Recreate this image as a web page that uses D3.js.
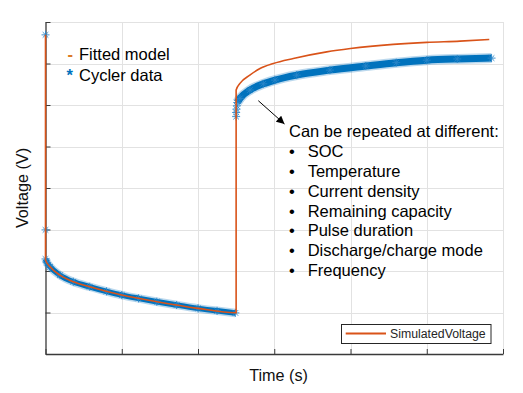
<!DOCTYPE html>
<html>
<head>
<meta charset="utf-8">
<script src="https://cdn.jsdelivr.net/npm/d3@7"></script>
<style>
  html, body { margin: 0; padding: 0; background: #fff; }
  svg { display: block; }
  text { font-family: "Liberation Sans", Arial, sans-serif; }
</style>
</head>
<body>
<svg id="chart" width="523" height="393"></svg>
<script>
// ---------- data (grid units: time 0..6, voltage 0..8) ----------
const xTicks = [0, 1, 2, 3, 4, 5, 6];
const yTicks = [0, 1, 2, 3, 4, 5, 6, 7, 8];

// Fitted model (orange line)
const fitTime = [0, 0, 0.06, 0.19, 0.365, 0.58, 1.0, 1.46, 2.0, 2.49, 2.5, 2.5, 2.55, 2.68, 2.813, 2.988, 3.25, 3.688, 4.0, 4.56, 5.0, 5.436, 5.82];
const fitVolt = [7.69, 2.265, 2.10, 1.90, 1.74, 1.62, 1.42, 1.26, 1.10, 0.995, 0.995, 6.36, 6.52, 6.72, 6.88, 7.00, 7.12, 7.28, 7.36, 7.46, 7.51, 7.54, 7.58];

// Cycler data (blue stars): dense pulse segment
const pulseTime = [0, 0.02, 0.06, 0.19, 0.365, 0.58, 0.8, 1.0, 1.22, 1.46, 1.72, 2.0, 2.25, 2.49];
const pulseVolt = [2.29, 2.2, 2.10, 1.90, 1.74, 1.62, 1.51, 1.42, 1.34, 1.26, 1.18, 1.10, 1.04, 0.99];
// dense relaxation segment
const relaxTime = [2.515, 2.55, 2.68, 2.856, 3.01, 3.294, 3.73, 4.2, 4.6, 5.0, 5.4, 5.85];
const relaxVolt = [6.06, 6.16, 6.36, 6.51, 6.60, 6.72, 6.84, 6.94, 7.02, 7.08, 7.11, 7.13];
// isolated samples
const sparseTime = [0, 0, 2.5, 2.5, 2.505, 2.51];
const sparseVolt = [7.69, 2.99, 5.72, 5.82, 5.9, 5.98];

// texts
const legendLabels = ["Fitted model", "Cycler data"];
const noteTitle = "Can be repeated at different:";
const noteItems = ["SOC", "Temperature", "Current density", "Remaining capacity", "Pulse duration", "Discharge/charge mode", "Frequency"];
const seriesName = "SimulatedVoltage";
const xLabel = "Time (s)";
const yLabel = "Voltage (V)";

// ---------- drawing ----------
const BLUE = "#0072BD", ORANGE = "#D95319";
const svg = d3.select("#chart");
const x = d3.scaleLinear().domain([0, 6]).range([45.5, 503]);
const y = d3.scaleLinear().domain([0, 8]).range([354, 22]);

// grid
const grid = svg.append("g").attr("stroke", "#e2e2e2").attr("stroke-width", 1);
grid.selectAll("line.v").data(xTicks.filter(d => d > 0)).join("line")
  .attr("x1", d => Math.round(x(d)) + 0.5).attr("x2", d => Math.round(x(d)) + 0.5)
  .attr("y1", y(0)).attr("y2", y(8));
grid.selectAll("line.h").data(yTicks.filter(d => d > 0)).join("line")
  .attr("y1", d => Math.round(y(d)) + 0.5).attr("y2", d => Math.round(y(d)) + 0.5)
  .attr("x1", x(0)).attr("x2", x(6));

// axes (no tick labels, inward ticks)
const axL = svg.append("g").attr("transform", `translate(${x(0)},0)`)
  .call(d3.axisLeft(y).tickValues(yTicks).tickSize(-5).tickSizeOuter(0).tickFormat(""));
const axB = svg.append("g").attr("transform", `translate(0,${y(0)})`)
  .call(d3.axisBottom(x).tickValues(xTicks).tickSize(-5).tickSizeOuter(0).tickFormat(""));
[axL, axB].forEach(a => {
  a.select(".domain").attr("stroke", "#3a3a3a").attr("stroke-width", 1.3);
  a.selectAll(".tick line").attr("stroke", "#3a3a3a").attr("stroke-width", 1);
});

// blue cycler data
const blue = svg.append("g");
const lineLin = d3.line().x(d => x(d[0])).y(d => y(d[1])).curve(d3.curveMonotoneX);
const pulse = pulseTime.map((t, i) => [t, pulseVolt[i]]);
const relax = relaxTime.map((t, i) => [t, relaxVolt[i]]);
[[pulse, 5.5], [relax, 7]].forEach(([seg, w]) => {
  blue.append("path").attr("d", lineLin(seg)).attr("fill", "none")
    .attr("stroke", "#3d8fcc").attr("stroke-width", w + 3).attr("stroke-opacity", 0.35);
  blue.append("path").attr("d", lineLin(seg)).attr("fill", "none")
    .attr("stroke", BLUE).attr("stroke-width", w);
});
const starPts = pulse.concat(relax).concat(sparseTime.map((t, i) => [t, sparseVolt[i]]));
const star = (r) => `M${-r},0L${r},0M0,${-r}L0,${r}M${-r*0.7},${-r*0.7}L${r*0.7},${r*0.7}M${-r*0.7},${r*0.7}L${r*0.7},${-r*0.7}`;
blue.selectAll("path.star").data(starPts).join("path")
  .attr("class", "star")
  .attr("transform", d => `translate(${x(d[0])},${y(d[1])})`)
  .attr("d", star(4)).attr("fill", "none").attr("stroke", "#2a86c8").attr("stroke-width", 0.9);

// orange fitted model
const fit = fitTime.map((t, i) => [t, fitVolt[i]]);
svg.append("path").attr("d", d3.line().x(d => x(d[0])).y(d => y(d[1])).curve(d3.curveMonotoneX)(fit))
  .attr("fill", "none").attr("stroke", ORANGE).attr("stroke-width", 1.6);

// axis labels
svg.append("text").attr("x", 278.5).attr("y", 381).attr("text-anchor", "middle")
  .attr("font-size", 16.2).attr("fill", "#111").text(xLabel);
svg.append("text").attr("transform", "translate(28,188) rotate(-90)").attr("text-anchor", "middle")
  .attr("font-size", 16.2).attr("fill", "#111").text(yLabel);

// top-left text legend
svg.append("text").attr("x", 67.5).attr("y", 60).attr("font-size", 16.5).attr("font-weight", "bold")
  .attr("fill", "#DC7A26").text("-");
svg.append("text").attr("x", 79).attr("y", 60).attr("font-size", 16.5).attr("fill", "#000").text(legendLabels[0]);
svg.append("text").attr("x", 66.5).attr("y", 81).attr("font-size", 16.5).attr("font-weight", "bold")
  .attr("fill", BLUE).text("*");
svg.append("text").attr("x", 79).attr("y", 81).attr("font-size", 16.5).attr("fill", "#000").text(legendLabels[1]);

// annotation arrow
svg.append("defs").append("marker").attr("id", "ah").attr("viewBox", "0 0 10 10")
  .attr("refX", 10).attr("refY", 5).attr("markerWidth", 9).attr("markerHeight", 8)
  .attr("markerUnits", "userSpaceOnUse").attr("orient", "auto")
  .append("path").attr("d", "M0,0L10,5L0,10Z").attr("fill", "#000");
svg.append("line").attr("x1", 258.3).attr("y1", 100.7).attr("x2", 284.5).attr("y2", 124)
  .attr("stroke", "#000").attr("stroke-width", 1).attr("marker-end", "url(#ah)");

// annotation text
svg.append("text").attr("x", 289).attr("y", 137.3).attr("font-size", 16.5).attr("fill", "#000").text(noteTitle);
const items = svg.append("g");
noteItems.forEach((t, i) => {
  const yy = 157.1 + i * 19.8;
  items.append("text").attr("x", 289).attr("y", yy).attr("font-size", 16.5).attr("fill", "#000").text("\u2022");
  items.append("text").attr("x", 307.7).attr("y", yy).attr("font-size", 16.5).attr("fill", "#000").text(t);
});

// series legend box
const lg = svg.append("g");
lg.append("rect").attr("x", 341.5).attr("y", 324.5).attr("width", 149.5).attr("height", 19)
  .attr("fill", "#fff").attr("stroke", "#262626").attr("stroke-width", 1);
lg.append("line").attr("x1", 345.7).attr("x2", 386).attr("y1", 333.5).attr("y2", 333.5)
  .attr("stroke", ORANGE).attr("stroke-width", 2);
lg.append("text").attr("x", 390).attr("y", 338).attr("font-size", 12.3).attr("fill", "#262626").text(seriesName);
</script>
</body>
</html>
